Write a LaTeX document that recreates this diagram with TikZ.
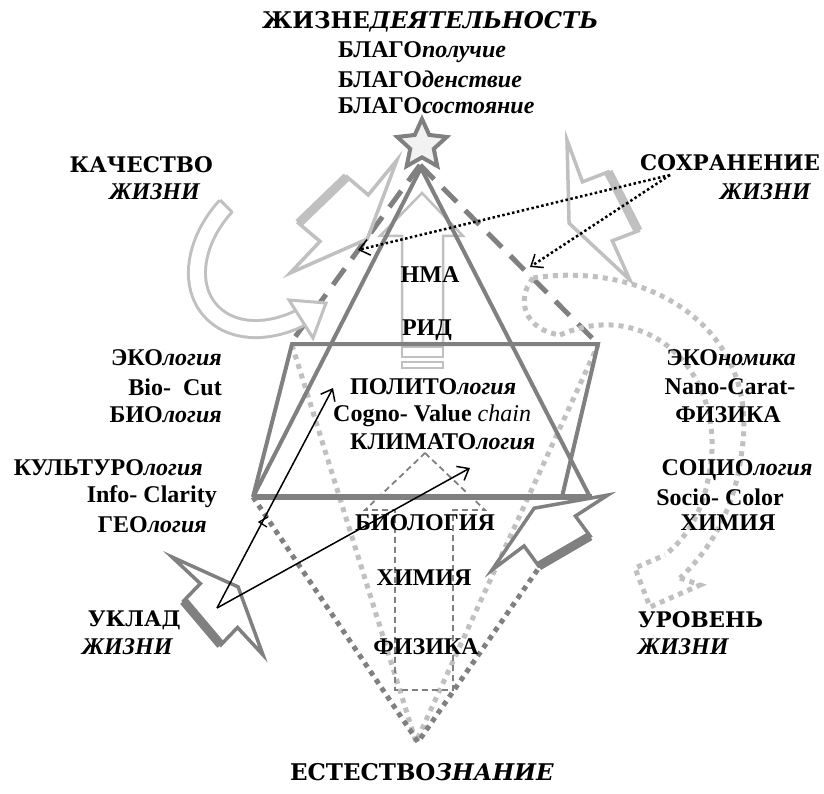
\documentclass[tikz,border=0pt]{standalone}
\usepackage{fontspec}
\setmainfont{Liberation Serif}
\newfontfamily\headfont{DejaVu Serif}
\usetikzlibrary{arrows.meta,shapes.geometric}
\definecolor{darkline}{RGB}{128,128,128}
\definecolor{lightline}{RGB}{192,192,192}
\definecolor{starfill}{RGB}{242,242,242}
\tikzset{
  body/.style={font=\fontsize{24}{28}\selectfont\bfseries,inner sep=0pt},
  head/.style={font=\headfont\fontsize{21.5}{26}\selectfont\bfseries,inner sep=0pt},
  bighead/.style={font=\headfont\fontsize{23}{28}\selectfont\bfseries,inner sep=0pt},
  life/.style={font=\fontsize{24}{28}\selectfont\bfseries\itshape,inner sep=0pt},
  frame/.style={draw=darkline,line width=4pt,line join=miter},
  base/.style={draw=darkline,line width=6pt},
  longdash/.style={draw=darkline,line width=5pt,dash pattern=on 20pt off 12pt},
  darkdots/.style={draw=darkline,line width=5pt,dash pattern=on 5pt off 5pt},
  lightdots/.style={draw=lightline,line width=5pt,dash pattern=on 5pt off 5pt},
  ghost/.style={draw=lightline,line width=2.5pt},
  thindash/.style={draw=darkline,line width=1.8pt,dash pattern=on 6pt off 4pt},
  pointer/.style={draw=black,line width=1.5pt,-{Straight Barb[length=10pt,width=16pt]}},
  hint/.style={draw=black,line width=2.5pt,dash pattern=on 2.5pt off 2.5pt,-{Straight Barb[length=10pt,width=16pt,line width=1.5pt]}}
}
% bolt from (0,0) to its point at (1,0)
\newcommand{\boltpoly}{(0,0) -- (0.29,-0.02) -- (0.30,0.16) -- (0.73,0.18) -- (0.72,0) -- (1,0) -- (0.5,-0.21) -- cycle}
\newcommand{\bolt}[6]{%
  \begin{scope}[shift={(#2,#3)},rotate=#4,x=#5pt,y=#6pt]
    \draw[#1,line width=3.5pt,fill=white,line join=miter] \boltpoly;
    \draw[#1,line width=9pt] (0.30,0.16) -- (0.73,0.18);
  \end{scope}}

\begin{document}
\begin{tikzpicture}[x=1pt,y=-1pt]
  \useasboundingbox (0,0) rectangle (824,794);
  \fill[white] (0,0) rectangle (824,794);

  % dotted cones down to the bottom point
  \draw[lightdots] (292,345) -- (416,742) -- (598,345);
  \draw[darkdots] (253,497) -- (418,742) -- (588,497);

  % thin dashed arrow in the middle
  \draw[thindash] (425,453) -- (485,510) -- (453,510) -- (453,690) -- (395,690) -- (395,510) -- (365,510) -- cycle;

  % light striped arrow
  \draw[ghost] (422,193) -- (463,236) -- (443,236) -- (443,343) -- (402,343) -- (402,236) -- (380,236) -- cycle;
  \draw[ghost] (402,347) rectangle (443,357);
  \draw[ghost] (402,362) rectangle (443,368);

  \draw[longdash] (420,165) -- (290,344);
  \draw[longdash] (420,165) -- (598,344);

  \draw[frame] (421,168) -- (253,497);
  \draw[frame] (421,168) -- (590,497);
  \draw[frame] (253,497) -- (292,344) -- (598,344) -- (562,497);
  \draw[base] (253,497) -- (592,497);

  % curved hollow arrow near the quality label
  \draw[lightline,line width=3pt,double=white,double distance=14pt]
    (226,206) .. controls (190,245) and (185,300) .. (225,322) .. controls (250,335) and (280,328) .. (300,318);
  \draw[ghost,line width=3pt] (232,212) -- (220,200);
  \draw[ghost,line width=3pt,fill=white,line join=miter] (289,300) -- (326,303) -- (313,338) -- cycle;

  % dotted curved arrow on the right
  \draw[lightdots] (533,278) .. controls (650,260) and (760,330) .. (742,450) .. controls (735,510) and (710,550) .. (680,578);
  \draw[lightdots] (560,335) .. controls (640,300) and (715,360) .. (712,450) .. controls (708,505) and (690,535) .. (665,555);
  \draw[lightdots] (533,278) .. controls (515,300) and (525,330) .. (560,335);
  \draw[lightdots] (680,578) -- (700,585) -- (650,607) -- (635,568) -- (665,555);

  % bolts
  \bolt{lightline}{397}{160}{-133.4}{155.6}{-155.6}
  \bolt{lightline}{567}{140}{-65.8}{153.5}{153.5}
  \bolt{darkline}{172}{557}{-47.1}{133.7}{-133.7}
  \bolt{darkline}{492}{570}{32.9}{138}{-138}

  \node[star,star points=5,star point ratio=2.1,minimum size=52pt,inner sep=0pt,draw=darkline,fill=starfill,line width=4pt] (apex) at (422,145) {};

  % arrows
  \coordinate (ukladsrc) at (217,608);
  \coordinate (politgoal) at (333,388);
  \coordinate (klimgoal) at (470,468);
  \draw[pointer] (ukladsrc) -- (politgoal);
  \draw[pointer] (ukladsrc) -- (klimgoal);
  \coordinate (sohrsrc) at (670,175);
  \coordinate (leftdash) at (358,250);
  \coordinate (rightdash) at (530,267);
  \draw[hint] (sohrsrc) -- (leftdash);
  \draw[hint] (sohrsrc) -- (rightdash);
  \draw[black,line width=1.3pt] (268,517) -- (259,522) -- (267,527);

  % labels
  \node[bighead,anchor=west] (title) at (262,22) {ЖИЗНЕ\textit{ДЕЯТЕЛЬНОСТЬ}};
  \node[body,anchor=west] (blago1) at (338,52) {БЛАГО\textit{получие}};
  \node[body,anchor=west] (blago2) at (338,79) {БЛАГО\textit{денствие}};
  \node[body,anchor=west] (blago3) at (338,106) {БЛАГО\textit{состояние}};

  \node[head,anchor=east] (quality) at (213,165) {КАЧЕСТВО};
  \node[life,anchor=east] (quality2) at (200,192) {ЖИЗНИ};
  \node[head,anchor=west] (keep) at (640,163) {СОХРАНЕНИЕ};
  \node[life,anchor=west] (keep2) at (720,192) {ЖИЗНИ};
  \node[head,anchor=west] (uklad) at (88,620) {УКЛАД};
  \node[life,anchor=west] (uklad2) at (82,647) {ЖИЗНИ};
  \node[head,anchor=west] (level) at (638,620) {УРОВЕНЬ};
  \node[life,anchor=west] (level2) at (638,647) {ЖИЗНИ};
  \node[bighead] (natsci) at (422,772) {ЕСТЕСТВО\textit{ЗНАНИЕ}};

  \node[body] (nma) at (430,275) {НМА};
  \node[body] (rid) at (427,330) {РИД};

  \node[body,anchor=east] (ecol) at (222,358) {ЭКО\textit{логия}};
  \node[body,anchor=east] (biocut) at (222,387) {Bio-~~Cut};
  \node[body,anchor=east] (biol) at (222,415) {БИО\textit{логия}};
  \node[body,anchor=east] (cult) at (203,468) {КУЛЬТУРО\textit{логия}};
  \node[body,anchor=east] (info) at (217,497) {Info- Clarity};
  \node[body,anchor=east] (geo) at (207,525) {ГЕО\textit{логия}};

  \node[body] (econ) at (731,358) {ЭКО\textit{номика}};
  \node[body] (nano) at (730,387) {Nano-Carat-};
  \node[body] (physr) at (728,415) {ФИЗИКА};
  \node[body] (soc) at (737,470) {СОЦИО\textit{логия}};
  \node[body] (socio) at (720,497) {Socio- Color};
  \node[body] (chemr) at (728,523) {ХИМИЯ};

  \node[body,anchor=west] (polit) at (350,387) {ПОЛИТО\textit{логия}};
  \node[body,anchor=west] (cogno) at (333,416) {Cogno- Value \textmd{\textit{chain}}};
  \node[body,anchor=west] (klim) at (350,442) {КЛИМАТО\textit{логия}};

  \node[body] (biology) at (425,523) {БИОЛОГИЯ};
  \node[body] (chemistry) at (424,578) {ХИМИЯ};
  \node[body] (physics) at (426,647) {ФИЗИКА};
\end{tikzpicture}
\end{document}
